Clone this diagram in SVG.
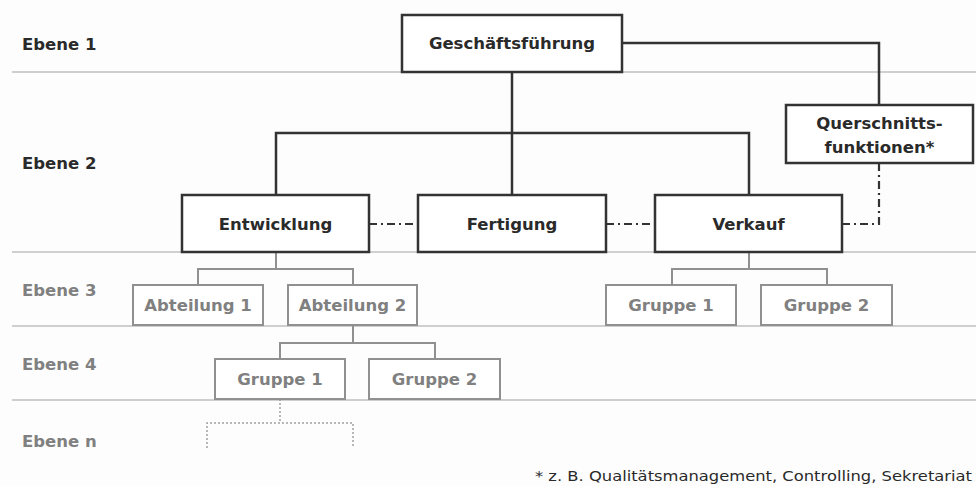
<svg xmlns="http://www.w3.org/2000/svg" width="976" height="486" viewBox="0 0 976 486">
<style>
.sep{stroke:#cfcfcf;stroke-width:2;fill:none}
.lvl{font-family:"DejaVu Sans",Verdana,sans-serif;font-weight:bold;font-size:16.5px}
.dk{fill:#2a2a2a}
.gr{fill:#808080}
.b1 rect{fill:#fff;stroke:#333;stroke-width:2.5}
.b1 text{font-family:"DejaVu Sans",Verdana,sans-serif;font-weight:bold;font-size:16.5px;fill:#2a2a2a;text-anchor:middle}
.b3 rect{fill:#fff;stroke:#909090;stroke-width:2}
.b3 text{font-family:"DejaVu Sans",Verdana,sans-serif;font-weight:bold;font-size:16.5px;fill:#808080;text-anchor:middle}
.c1{stroke:#333;stroke-width:2.5;fill:none}
.cd{stroke:#333;stroke-width:2.2;fill:none;stroke-dasharray:8 4 2 4}
.c3{stroke:#909090;stroke-width:2;fill:none}
.cn{stroke:#a0a0a0;stroke-width:1.5;fill:none;stroke-dasharray:2 2}
</style>
<rect width="976" height="486" fill="#fdfdfd"/>
<g id="levels">
<path class="sep" d="M12 72H402M622 72H976M12 252H976M12 326H976M12 400H976"/>
<text class="lvl dk" x="22" y="50">Ebene 1</text>
<text class="lvl dk" x="22" y="169">Ebene 2</text>
<text class="lvl gr" x="22" y="296">Ebene 3</text>
<text class="lvl gr" x="22" y="370">Ebene 4</text>
<text class="lvl gr" x="22" y="447">Ebene n</text>
</g>
<g id="connectors">
<path class="c1" d="M622 43H879V105M512 72V195M276 195V133H749V195"/>
<path class="cd" d="M369 224H418M606 224H655M842 224H879V163"/>
<path class="c3" d="M276 252V269M198 285V269H353V285M749 252V269M672 285V269H827V285M353 325V343M280 359V343H435V359"/>
<path class="cn" d="M280 399V423M207 448V423H353V448"/>
</g>
<g id="gf" class="b1"><rect x="402" y="15" width="220" height="57"/><text x="512" y="49">Geschäftsführung</text></g>
<g id="qf" class="b1"><rect x="786" y="105" width="187" height="58"/><text x="879.5" y="129">Querschnitts-</text><text x="879.5" y="153">funktionen*</text></g>
<g id="entwicklung" class="b1"><rect x="182" y="195" width="187" height="57"/><text x="275.5" y="230">Entwicklung</text></g>
<g id="fertigung" class="b1"><rect x="418" y="195" width="188" height="57"/><text x="512" y="230">Fertigung</text></g>
<g id="verkauf" class="b1"><rect x="655" y="195" width="187" height="57"/><text x="748.5" y="230">Verkauf</text></g>
<g id="abt1" class="b3"><rect x="133" y="285" width="130" height="40"/><text x="198" y="311">Abteilung 1</text></g>
<g id="abt2" class="b3"><rect x="288" y="285" width="129" height="40"/><text x="352.5" y="311">Abteilung 2</text></g>
<g id="vgr1" class="b3"><rect x="606" y="285" width="130" height="40"/><text x="671" y="311">Gruppe 1</text></g>
<g id="vgr2" class="b3"><rect x="761" y="285" width="131" height="40"/><text x="826.5" y="311">Gruppe 2</text></g>
<g id="gr1" class="b3"><rect x="215" y="359" width="130" height="40"/><text x="280" y="385">Gruppe 1</text></g>
<g id="gr2" class="b3"><rect x="369" y="359" width="131" height="40"/><text x="434.5" y="385">Gruppe 2</text></g>
<text x="535" y="481" font-family="DejaVu Sans,Verdana,sans-serif" font-size="14" fill="#2a2a2a" textLength="437" lengthAdjust="spacingAndGlyphs">* z. B. Qualitätsmanagement, Controlling, Sekretariat</text>
</svg>
